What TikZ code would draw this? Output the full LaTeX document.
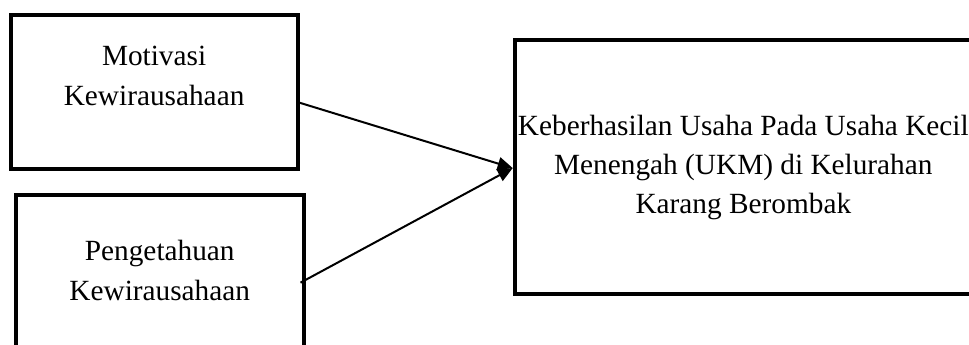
\documentclass[tikz,border=0pt]{standalone}
\usepackage{fontspec}
\setmainfont{Liberation Serif}
\usetikzlibrary{arrows.meta}
\begin{document}
\begin{tikzpicture}[x=1pt,y=-1pt,
  boxx/.style={draw,line width=4pt,inner sep=0pt,rectangle},
  lbl/.style={align=center,inner sep=0pt,font=\fontsize{29.3}{40}\selectfont},
  conn/.style={line width=2pt,-{Triangle[length=15pt,width=13pt]}}]
\useasboundingbox (0,0) rectangle (969,345);
\clip (0,0) rectangle (969,345);
\node[boxx,minimum width=286.8pt,minimum height=153.4pt] (b1) at (154.1,92) {};
\node[boxx,minimum width=287.5pt,minimum height=165.3pt] (b2) at (159.75,277.35) {};
\node[boxx,minimum width=457.3pt,minimum height=253.5pt,align=center,
  font=\fontsize{29.3}{39}\selectfont] (b3) at (743.35,167.05)
  {Keberhasilan Usaha Pada Usaha Kecil\\Menengah (UKM) di Kelurahan\\Karang Berombak};
\node[lbl] (t1) at (154.1,75.7) {Motivasi\\Kewirausahaan};
\node[lbl] (t2) at (159.75,270) {Pengetahuan\\Kewirausahaan};
\draw[conn] ([yshift=-10.7pt]b1.east) -- ([yshift=-1pt]b3.west);
\draw[conn] ([yshift=-5.3pt,xshift=-5pt]b2.east) -- ([yshift=-1pt]b3.west);
\end{tikzpicture}
\end{document}
